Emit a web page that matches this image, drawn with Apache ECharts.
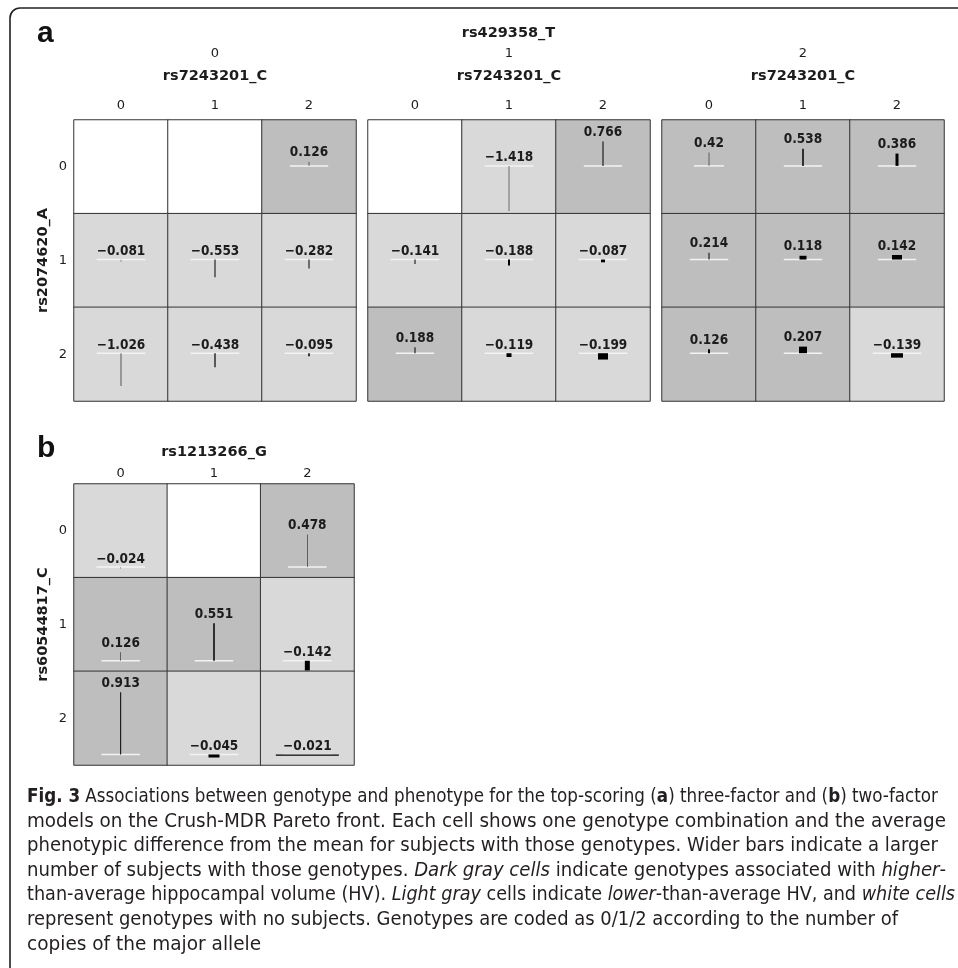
<!DOCTYPE html>
<html><head><meta charset="utf-8">
<script src="https://cdn.jsdelivr.net/npm/echarts@6/dist/echarts.min.js"></script>
<style>html,body{margin:0;padding:0;background:#fff}#c{width:958px;height:968px}</style>
</head><body><div id="c"></div>
<script>
// ---------- data ----------
const genotypes = ['0', '1', '2'];
const topFactor = 'rs429358_T';
const colFactorA = 'rs7243201_C';
const rowFactorA = 'rs2074620_A';
const colFactorB = 'rs1213266_G';
const rowFactorB = 'rs60544817_C';
// mean phenotypic difference (rows = row factor genotype, cols = column factor genotype); null = no subjects
const diffA0 = [[null, null, 0.126], [-0.081, -0.553, -0.282], [-1.026, -0.438, -0.095]];
const diffA1 = [[null, -1.418, 0.766], [-0.141, -0.188, -0.087], [0.188, -0.119, -0.199]];
const diffA2 = [[0.42, 0.538, 0.386], [0.214, 0.118, 0.142], [0.126, 0.207, -0.139]];
const diffB  = [[-0.024, null, 0.478], [0.126, 0.551, -0.142], [0.913, -0.045, -0.021]];
// estimated number of subjects per genotype combination
const subjA0 = [[0, 0, 5], [3, 10, 10], [6, 12, 15]];
const subjA1 = [[0, 5, 10], [10, 20, 40], [10, 50, 100]];
const subjA2 = [[5, 15, 30], [10, 70, 100], [20, 80, 120]];
const subjB  = [[3, 0, 5], [5, 15, 50], [10, 110, 630]];

// ---------- styles ----------
const PX_PER_SUBJECT = 0.1;
const DARK = '#bebebe', LIGHT = '#d9d9d9', EMPTY = '#ffffff';
const UI_FONT = "'DejaVu Sans', Verdana, sans-serif";
const TEXT = '#1c1c1c';

const mctx = document.createElement('canvas').getContext('2d');
function measure(t, font) { mctx.font = font; return mctx.measureText(t).width; }
function fontAvailable(f) {
  const s = 'abcdefghijklmnopqrstuvwxyz ABCDEFGHIJ 0123456789';
  mctx.font = '40px monospace'; const a = mctx.measureText(s).width;
  mctx.font = "40px '" + f + "', monospace"; return mctx.measureText(s).width !== a;
}
function fmt(v) { return v < 0 ? '\u2212' + String(Math.abs(v)) : String(v); }

const hasCond = fontAvailable('DejaVu Sans Condensed');
const VAL_FONT = hasCond ? "'DejaVu Sans Condensed', 'DejaVu Sans', sans-serif" : UI_FONT;
const VAL_SIZE = hasCond ? 13.5 : 12.5;

const panels = [
  { vals: diffA0, subj: subjA0, box: [74, 120, 282, 281], range: [-1.5, 1.44], xName: colFactorA, yName: rowFactorA, rows: true, nameGap: 36, labelMargin: 8 },
  { vals: diffA1, subj: subjA1, box: [368, 120, 282, 281], range: [-1.5, 1.44], xName: colFactorA, yName: '', rows: false, nameGap: 36, labelMargin: 8 },
  { vals: diffA2, subj: subjA2, box: [662, 120, 282, 281], range: [-1.5, 1.44], xName: colFactorA, yName: '', rows: false, nameGap: 36, labelMargin: 8 },
  { vals: diffB, subj: subjB, box: [74, 484, 280, 281], range: [-0.155, 1.22], xName: colFactorB, yName: rowFactorB, rows: true, nameGap: 24, labelMargin: 4 }
];

const valFontStr = 'bold ' + VAL_SIZE + 'px ' + VAL_FONT;
function renderCell(params, api) {
  const v = api.value(1), n = api.value(2);
  const o = api.coord([0, 0]);
  const e = api.coord([0, v]);
  const w = n * PX_PER_SUBJECT;
  const txt = fmt(v);
  const tw = measure(txt, valFontStr);
  const labY = v > 0 ? e[1] - 2 : o[1] - 1;
  return {
    type: 'group',
    children: [
      { type: 'line', shape: { x1: o[0] - tw / 2, y1: o[1], x2: o[0] + tw / 2, y2: o[1] }, style: { stroke: '#f3f3f3', lineWidth: 1.5 } },
      { type: 'rect', shape: { x: o[0] - w / 2, y: Math.min(o[1], e[1]), width: w, height: Math.abs(e[1] - o[1]) }, style: { fill: '#000' } },
      { type: 'text', x: o[0], y: labY, style: { text: txt, fontSize: VAL_SIZE, fontWeight: 'bold', fontFamily: VAL_FONT, fill: TEXT, align: 'center', verticalAlign: 'bottom' } }
    ]
  };
}

const grid = [], xAxis = [], yAxis = [], series = [];
panels.forEach((p, pi) => {
  const [l, t, w, h] = p.box;
  grid.push({ left: l, top: t, width: w, height: h });
  xAxis.push({
    type: 'category', gridIndex: pi, data: genotypes, position: 'top',
    axisLine: { show: false }, axisTick: { show: false }, splitLine: { show: false },
    axisLabel: { margin: p.labelMargin, fontSize: 13, color: TEXT, fontFamily: UI_FONT },
    name: p.xName, nameLocation: 'middle', nameGap: p.nameGap,
    nameTextStyle: { fontSize: 14.5, fontWeight: 'bold', color: TEXT, fontFamily: UI_FONT }
  });
  yAxis.push({
    type: 'category', gridIndex: pi, data: genotypes, inverse: true,
    axisLine: { show: false }, axisTick: { show: false }, splitLine: { show: false },
    axisLabel: { show: p.rows, margin: 7, fontSize: 13, color: TEXT, fontFamily: UI_FONT },
    name: p.yName, nameLocation: 'middle', nameGap: 23,
    nameTextStyle: { fontSize: 14.5, fontWeight: 'bold', color: TEXT, fontFamily: UI_FONT }
  });
  const hm = [];
  p.vals.forEach((row, r) => row.forEach((v, c) => {
    hm.push({ value: [c, r, v == null ? 0 : v], itemStyle: { color: v == null ? EMPTY : (v > 0 ? DARK : LIGHT) } });
  }));
  series.push({ type: 'heatmap', xAxisIndex: pi, yAxisIndex: pi, data: hm, silent: true, z: 1,
    itemStyle: { borderColor: '#333', borderWidth: 1 }, emphasis: { disabled: true }, label: { show: false } });
});

let gi = panels.length;
panels.forEach((p) => {
  const [l, t, w, h] = p.box;
  p.vals.forEach((row, r) => row.forEach((v, c) => {
    if (v == null) return;
    grid.push({ left: l + c * w / 3, top: t + r * h / 3, width: w / 3, height: h / 3 });
    xAxis.push({ type: 'category', gridIndex: gi, data: ['cell'], show: false });
    yAxis.push({ type: 'value', gridIndex: gi, min: p.range[0], max: p.range[1], show: false });
    series.push({ type: 'custom', xAxisIndex: gi, yAxisIndex: gi, data: [[0, v, p.subj[r][c]]], renderItem: renderCell, z: 5, silent: true, clip: false });
    gi++;
  }));
});

// ---------- caption ----------
const capFamily = fontAvailable('Liberation Sans Narrow') ? "'Liberation Sans Narrow'" :
  (hasCond ? "'DejaVu Sans Condensed'" : "'Liberation Sans'");
const capLines = [
  '{b|Fig. 3} Associations between genotype and phenotype for the top-scoring ({b|a}) three-factor and ({b|b}) two-factor',
  'models on the Crush-MDR Pareto front. Each cell shows one genotype combination and the average',
  'phenotypic difference from the mean for subjects with those genotypes. Wider bars indicate a larger',
  'number of subjects with those genotypes. {i|Dark gray cells} indicate genotypes associated with {i|higher}-',
  'than-average hippocampal volume (HV). {i|Light gray} cells indicate {i|lower}-than-average HV, and {i|white cells}',
  'represent genotypes with no subjects. Genotypes are coded as 0/1/2 according to the number of',
  'copies of the major allele'
];
const capEnds = [938, 946, 938, 946, 955, 898, 264];
const CAP_X = 27, CAP_Y0 = 797, LH = 24.6;
function runsOf(line) {
  const runs = []; const re = /\{([bi])\|([^}]*)\}/g; let last = 0, m;
  while ((m = re.exec(line))) {
    if (m.index > last) runs.push({ t: line.slice(last, m.index), s: 'n' });
    runs.push({ t: m[2], s: m[1] }); last = re.lastIndex;
  }
  if (last < line.length) runs.push({ t: line.slice(last), s: 'n' });
  return runs;
}
function capFont(s, size) { return (s === 'b' ? 'bold ' : s === 'i' ? 'italic ' : '') + size + 'px ' + capFamily; }
function lineWidth(line, size) { return runsOf(line).reduce((a, r) => a + measure(r.t, capFont(r.s, size)), 0); }
let natSum = 0, tgtSum = 0;
capLines.forEach((l, i) => { natSum += lineWidth(l, 20); tgtSum += capEnds[i] - CAP_X; });
const capSize = 0.98 * 20 * tgtSum / natSum;
const capRich = {
  b: { fontSize: capSize, fontFamily: capFamily, fontWeight: 'bold', fill: '#231f20' },
  i: { fontSize: capSize, fontFamily: capFamily, fontStyle: 'italic', fill: '#231f20' }
};
const captionEls = capLines.map((l, i) => {
  const s = (capEnds[i] - CAP_X) / lineWidth(l, capSize);
  return {
    type: 'text', x: CAP_X, y: CAP_Y0 + i * LH,
    scaleX: Math.max(0.93, Math.min(1.06, s)),
    style: { text: l, fontSize: capSize, fontFamily: capFamily, fill: '#231f20', verticalAlign: 'middle', rich: capRich }
  };
});

const option = {
  animation: false,
  backgroundColor: '#ffffff',
  grid, xAxis, yAxis, series,
  graphic: [
    { type: 'rect', silent: true, shape: { x: 10, y: 8, width: 990, height: 1000, r: 10 }, style: { fill: 'none', stroke: '#222', lineWidth: 1.6 } },
    { type: 'text', x: 37, y: 34, style: { text: 'a', fontSize: 30, fontWeight: 'bold', fontFamily: "'Liberation Sans', Arial, sans-serif", fill: '#111', verticalAlign: 'middle' } },
    { type: 'text', x: 37, y: 449, style: { text: 'b', fontSize: 30, fontWeight: 'bold', fontFamily: "'Liberation Sans', Arial, sans-serif", fill: '#111', verticalAlign: 'middle' } },
    { type: 'text', x: 508.5, y: 33, style: { text: topFactor, fontSize: 14.5, fontWeight: 'bold', fontFamily: UI_FONT, fill: TEXT, align: 'center', verticalAlign: 'middle' } },
    ...genotypes.map((g, i) => ({ type: 'text', x: panels[i].box[0] + panels[i].box[2] / 2, y: 54, style: { text: g, fontSize: 13, fontFamily: UI_FONT, fill: TEXT, align: 'center', verticalAlign: 'middle' } })),
    ...captionEls
  ]
};

const chart = echarts.init(document.getElementById('c'), null, { renderer: 'canvas' });
chart.setOption(option);
</script>
</body></html>
